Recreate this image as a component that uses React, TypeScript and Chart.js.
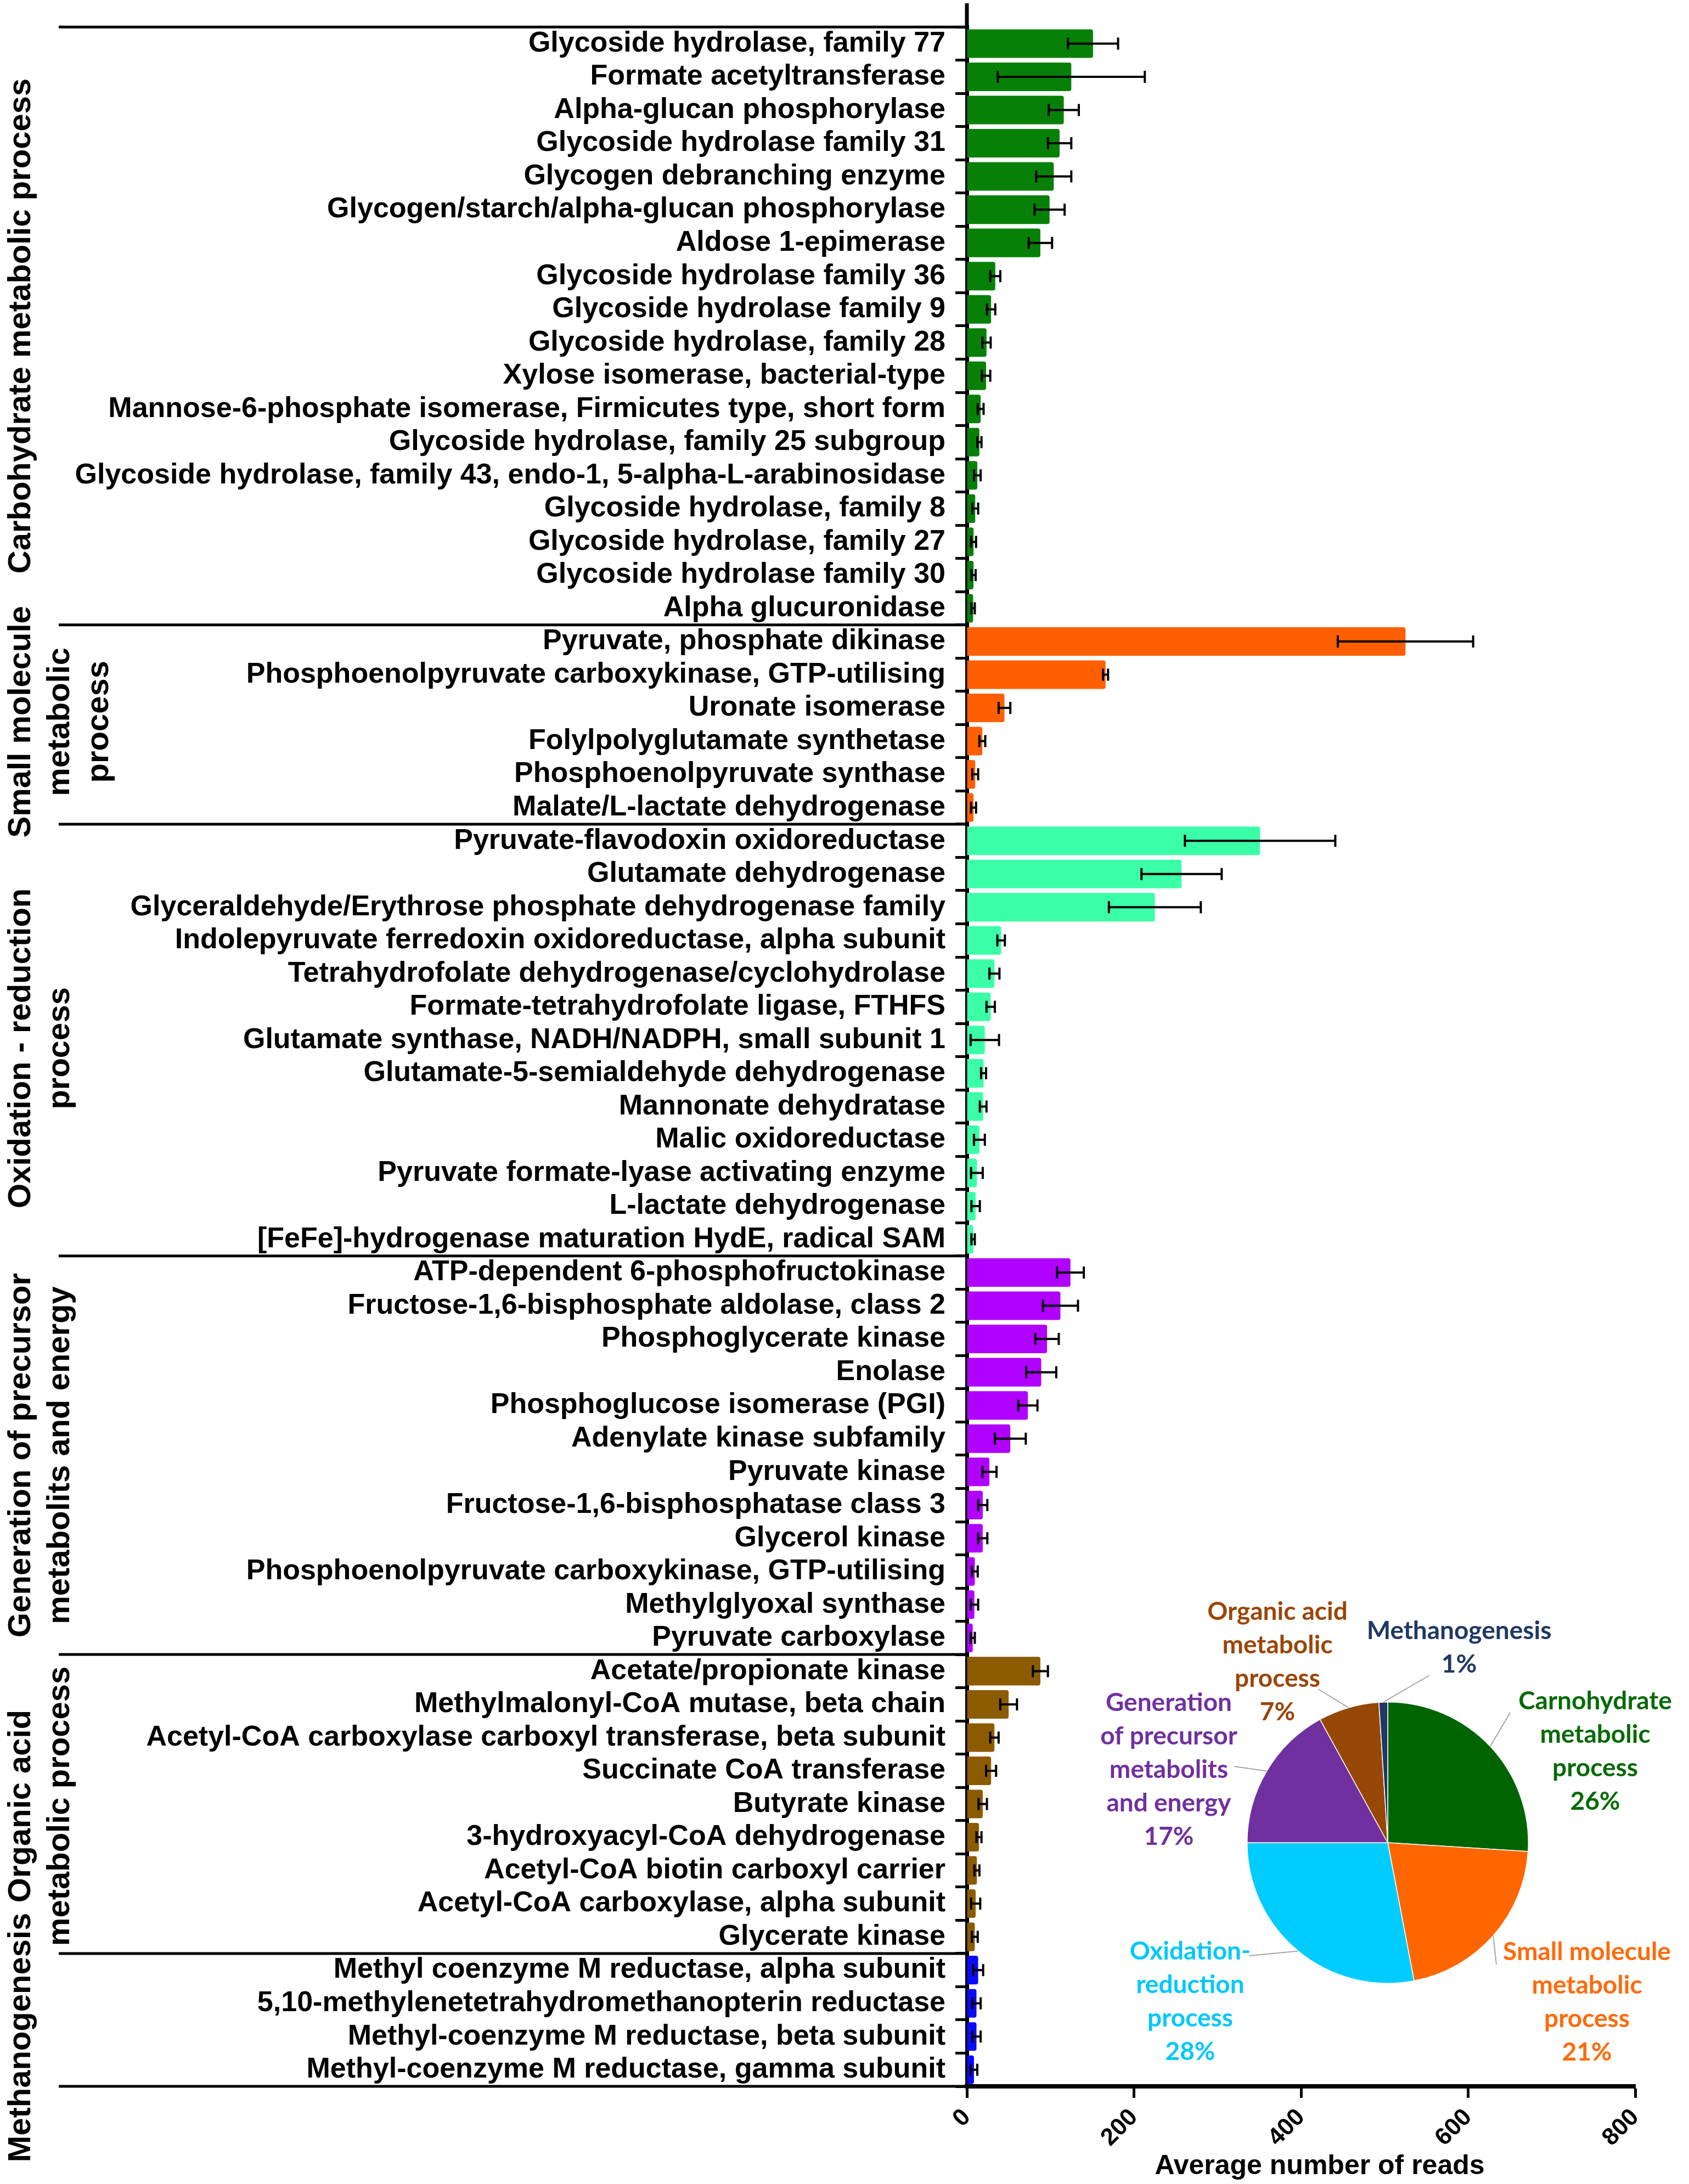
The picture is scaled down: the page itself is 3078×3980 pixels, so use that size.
import { useEffect, useRef } from 'react';
import { Chart, registerables } from 'chart.js';

Chart.register(...registerables);

// ---------------- DATA ----------------
const carbohydrateLabels = [
  'Glycoside hydrolase, family 77',
  'Formate acetyltransferase',
  'Alpha-glucan phosphorylase',
  'Glycoside hydrolase family 31',
  'Glycogen debranching enzyme',
  'Glycogen/starch/alpha-glucan phosphorylase',
  'Aldose 1-epimerase',
  'Glycoside hydrolase family 36',
  'Glycoside hydrolase family 9',
  'Glycoside hydrolase, family 28',
  'Xylose isomerase, bacterial-type',
  'Mannose-6-phosphate isomerase, Firmicutes type, short form',
  'Glycoside hydrolase, family 25 subgroup',
  'Glycoside hydrolase, family 43, endo-1, 5-alpha-L-arabinosidase',
  'Glycoside hydrolase, family 8',
  'Glycoside hydrolase, family 27',
  'Glycoside hydrolase family 30',
  'Alpha glucuronidase',
];
const carbohydrateMeans = [151, 125, 116, 111, 104, 99, 88, 34, 29, 23.5, 23, 16.5, 15, 12.5, 10, 8, 8, 7.5];
const carbohydrateErrors = [30, 88, 18, 14, 21, 18, 14, 6, 5, 5, 5, 3.5, 2.5, 4, 3.5, 3, 2.5, 2];

const smallMoleculeLabels = [
  'Pyruvate, phosphate dikinase',
  'Phosphoenolpyruvate carboxykinase, GTP-utilising',
  'Uronate isomerase',
  'Folylpolyglutamate synthetase',
  'Phosphoenolpyruvate synthase',
  'Malate/L-lactate dehydrogenase',
];
const smallMoleculeMeans = [525, 166, 45, 18.5, 10, 8];
const smallMoleculeErrors = [81, 3, 7, 3.5, 3.5, 3];

const oxidationLabels = [
  'Pyruvate-flavodoxin oxidoreductase',
  'Glutamate dehydrogenase',
  'Glyceraldehyde/Erythrose phosphate dehydrogenase family',
  'Indolepyruvate ferredoxin oxidoreductase, alpha subunit',
  'Tetrahydrofolate dehydrogenase/cyclohydrolase',
  'Formate-tetrahydrofolate ligase, FTHFS',
  'Glutamate synthase, NADH/NADPH, small subunit 1',
  'Glutamate-5-semialdehyde dehydrogenase',
  'Mannonate dehydratase',
  'Malic oxidoreductase',
  'Pyruvate formate-lyase activating enzyme',
  'L-lactate dehydrogenase',
  '[FeFe]-hydrogenase maturation HydE, radical SAM',
];
const oxidationMeans = [351, 257, 225, 41, 33, 28.5, 21.5, 20, 19.5, 15, 12, 10.5, 7.5];
const oxidationErrors = [90, 48, 55, 4.5, 6, 5, 17, 3, 4, 6.5, 7, 5, 2];

const generationLabels = [
  'ATP-dependent 6-phosphofructokinase',
  'Fructose-1,6-bisphosphate aldolase, class 2',
  'Phosphoglycerate kinase',
  'Enolase',
  'Phosphoglucose isomerase (PGI)',
  'Adenylate kinase subfamily',
  'Pyruvate kinase',
  'Fructose-1,6-bisphosphatase class 3',
  'Glycerol kinase',
  'Phosphoenolpyruvate carboxykinase, GTP-utilising',
  'Methylglyoxal synthase',
  'Pyruvate carboxylase',
];
const generationMeans = [124, 112, 96, 89, 73, 52, 27, 19, 19, 9.5, 9, 7];
const generationErrors = [16, 21, 14, 18, 11.5, 18.5, 8.5, 5.5, 5.5, 3.5, 4.5, 2.5];

const organicAcidLabels = [
  'Acetate/propionate kinase',
  'Methylmalonyl-CoA mutase, beta chain',
  'Acetyl-CoA carboxylase carboxyl transferase, beta subunit',
  'Succinate CoA transferase',
  'Butyrate kinase',
  '3-hydroxyacyl-CoA dehydrogenase',
  'Acetyl-CoA biotin carboxyl carrier',
  'Acetyl-CoA carboxylase, alpha subunit',
  'Glycerate kinase',
];
const organicAcidMeans = [88, 50, 33, 29, 19, 14.5, 12, 10.5, 9.5];
const organicAcidErrors = [9, 10, 5, 6, 5, 3, 3, 5.5, 3.5];

const methanogenesisLabels = [
  'Methyl coenzyme M reductase, alpha subunit',
  '5,10-methylenetetrahydromethanopterin reductase',
  'Methyl-coenzyme M reductase, beta subunit',
  'Methyl-coenzyme M reductase, gamma subunit',
];
const methanogenesisMeans = [13.5, 11.5, 11.5, 8.5];
const methanogenesisErrors = [6, 5, 5, 4];

const groupTitles = [
  ['Carbohydrate metabolic process'],
  ['Small molecule', 'metabolic', 'process'],
  ['Oxidation - reduction', 'process'],
  ['Generation of precursor', 'metabolits and energy'],
  ['Organic acid', 'metabolic process'],
  ['Methanogenesis'],
];
const groupBarColors = ['#078007', '#FF5F00', '#3BFFA7', '#B000FF', '#8C5B00', '#0A0AFF'];

const xTicks = [0, 200, 400, 600, 800];
const xTitle = 'Average number of reads';

const pieLabels = [
  'Carnohydrate metabolic process',
  'Small molecule metabolic process',
  'Oxidation-reduction process',
  'Generation of precursor metabolits and energy',
  'Organic acid metabolic process',
  'Methanogenesis',
];
const pieValues = [26, 21, 28, 17, 7, 1];
const pieTextLines = [
  ['Carnohydrate', 'metabolic', 'process', '26%'],
  ['Small molecule', 'metabolic', 'process', '21%'],
  ['Oxidation-', 'reduction', 'process', '28%'],
  ['Generation', 'of precursor', 'metabolits', 'and energy', '17%'],
  ['Organic acid', 'metabolic', 'process', '7%'],
  ['Methanogenesis', '1%'],
];
const pieColors = ['#006400', '#FF6600', '#00CCFF', '#7030A0', '#974806', '#1F3864'];
const pieTextColors = ['#066A06', '#FF6A0A', '#00C8FA', '#7030A0', '#9A4608', '#1F3864'];

// ---------------- DERIVED ----------------
const groupLabelSets = [carbohydrateLabels, smallMoleculeLabels, oxidationLabels, generationLabels, organicAcidLabels, methanogenesisLabels];
const groupMeanSets = [carbohydrateMeans, smallMoleculeMeans, oxidationMeans, generationMeans, organicAcidMeans, methanogenesisMeans];
const groupErrorSets = [carbohydrateErrors, smallMoleculeErrors, oxidationErrors, generationErrors, organicAcidErrors, methanogenesisErrors];
const allLabels = groupLabelSets.flat();
const allMeans = groupMeanSets.flat();
const allErrors = groupErrorSets.flat();
const groupSizes = groupLabelSets.map((g) => g.length);
const barColors = groupLabelSets.flatMap((g, gi) => g.map(() => groupBarColors[gi]));

const SANS = 'Arial, "Liberation Sans", Helvetica, sans-serif';

// ---------------- PLUGINS ----------------
const errorBarPlugin = {
  id: 'errorBars',
  afterDatasetsDraw(chart: any) {
    const meta = chart.getDatasetMeta(0);
    const xs = chart.scales.x;
    const ctx = chart.ctx;
    ctx.save();
    ctx.strokeStyle = '#000';
    ctx.lineWidth = 4;
    meta.data.forEach((bar: any, i: number) => {
      const m = allMeans[i];
      const e = allErrors[i];
      const x1 = xs.getPixelForValue(m - e);
      const x2 = xs.getPixelForValue(m + e);
      const y = bar.y;
      const c = 11;
      ctx.beginPath();
      ctx.moveTo(x1, y);
      ctx.lineTo(x2, y);
      ctx.moveTo(x1, y - c);
      ctx.lineTo(x1, y + c);
      ctx.moveTo(x2, y - c);
      ctx.lineTo(x2, y + c);
      ctx.stroke();
    });
    ctx.restore();
  },
};

const groupShift = [0, -5, 15, 0, 4, 32];

const groupPlugin = {
  id: 'groupSections',
  afterDraw(chart: any) {
    const ys = chart.scales.y;
    const xs = chart.scales.x;
    const ctx = chart.ctx;
    const half = (ys.getPixelForValue(1) - ys.getPixelForValue(0)) / 2;
    const bounds = [ys.getPixelForValue(0) - half];
    let idx = 0;
    groupSizes.forEach((n) => {
      idx += n;
      bounds.push(ys.getPixelForValue(idx - 1) + half);
    });
    ctx.save();
    ctx.strokeStyle = '#000';
    ctx.lineWidth = 5;
    bounds.forEach((b) => {
      ctx.beginPath();
      ctx.moveTo(107, b);
      ctx.lineTo(ys.right, b);
      ctx.stroke();
    });
    ctx.lineWidth = 7;
    ctx.beginPath();
    ctx.moveTo(ys.right, 6);
    ctx.lineTo(ys.right, ys.top + 2);
    ctx.stroke();

    ctx.fillStyle = '#000';
    ctx.font = `bold 58px ${SANS}`;
    ctx.textAlign = 'center';
    ctx.textBaseline = 'alphabetic';
    groupTitles.forEach((lines, g) => {
      const cy = (bounds[g] + bounds[g + 1]) / 2 + groupShift[g];
      lines.forEach((line, k) => {
        ctx.save();
        ctx.translate(55 + k * 71, cy);
        ctx.rotate(-Math.PI / 2);
        ctx.fillText(line, 0, 0);
        ctx.restore();
      });
    });

    // x-axis title
    ctx.font = `bold 50px ${SANS}`;
    ctx.textBaseline = 'middle';
    ctx.fillText(xTitle, (xs.left + xs.right) / 2 + 34, 3948);
    ctx.restore();
  },
};

// label layout relative to pie centre: [textX, firstLineY, leaderEndX, leaderEndY]
const pieLabelLayout = [
  [378, -258, 223, -237],
  [363, 199, 198, 222],
  [-360, 198, -252, 206],
  [-399, -255, -280, -139],
  [-201, -421, -127, -280],
  [130, -386, 76, -305],
];

const pieLabelPlugin = {
  id: 'pieLabels',
  afterDatasetsDraw(chart: any) {
    const ctx = chart.ctx;
    const arcs = chart.getDatasetMeta(0).data;
    ctx.save();
    arcs.forEach((arc: any, i: number) => {
      const { x, y, startAngle, endAngle, outerRadius } = arc.getProps(
        ['x', 'y', 'startAngle', 'endAngle', 'outerRadius'],
        true,
      );
      const mid = (startAngle + endAngle) / 2;
      const ax = x + Math.cos(mid) * outerRadius;
      const ay = y + Math.sin(mid) * outerRadius;
      const [tx, ty, lx, ly] = pieLabelLayout[i];
      ctx.strokeStyle = '#A6A6A6';
      ctx.lineWidth = 2;
      ctx.beginPath();
      ctx.moveTo(ax, ay);
      ctx.lineTo(x + lx, y + ly);
      ctx.stroke();
      ctx.fillStyle = pieTextColors[i];
      ctx.font = 'bold 46px Lato, "Open Sans", sans-serif';
      ctx.textAlign = 'center';
      ctx.textBaseline = 'middle';
      pieTextLines[i].forEach((t, k) => {
        ctx.fillText(t, x + tx, y + ty + k * 61);
      });
    });
    ctx.restore();
  },
};

// ---------------- COMPONENT ----------------
export default function App() {
  const barRef = useRef<HTMLCanvasElement | null>(null);
  const pieRef = useRef<HTMLCanvasElement | null>(null);

  useEffect(() => {
    if (!barRef.current || !pieRef.current) return;
    const bar = new Chart(barRef.current, {
      type: 'bar',
      data: {
        labels: allLabels,
        datasets: [
          {
            data: allMeans,
            backgroundColor: barColors,
            borderWidth: 0,
            borderRadius: 4,
            borderSkipped: 'start',
            barPercentage: 0.86,
            categoryPercentage: 1,
          },
        ],
      },
      options: {
        indexAxis: 'y',
        responsive: false,
        animation: false,
        devicePixelRatio: 1,
        layout: { padding: { top: 37, right: 98, left: 0, bottom: 0 } },
        plugins: { legend: { display: false }, tooltip: { enabled: false } },
        scales: {
          y: {
            type: 'category',
            position: 'left',
            z: 1,
            afterFit: (s: any) => {
              s.width = 1762;
            },
            grid: { drawOnChartArea: false, drawTicks: true, tickLength: 21, tickWidth: 5, tickColor: '#000' },
            border: { display: true, color: '#000', width: 7 },
            ticks: {
              autoSkip: false,
              padding: 18,
              color: '#000',
              font: { family: SANS, size: 52, weight: 'bold' },
            },
          },
          x: {
            type: 'linear',
            position: 'bottom',
            min: xTicks[0],
            max: xTicks[xTicks.length - 1],
            z: 1,
            afterFit: (s: any) => {
              s.height = 178;
            },
            afterBuildTicks: (s: any) => {
              s.ticks = xTicks.map((v) => ({ value: v }));
            },
            grid: { drawOnChartArea: false, drawTicks: true, tickLength: 21, tickWidth: 5, tickColor: '#000' },
            border: { display: true, color: '#000', width: 8 },
            ticks: {
              minRotation: 45,
              maxRotation: 45,
              padding: 10,
              color: '#000',
              font: { family: SANS, size: 44, weight: 'bold' },
            },
            title: { display: false },
          },
        },
      } as any,
      plugins: [errorBarPlugin, groupPlugin],
    });

    const pie = new Chart(pieRef.current, {
      type: 'pie',
      data: {
        labels: pieLabels,
        datasets: [
          {
            data: pieValues,
            backgroundColor: pieColors,
            borderColor: '#ffffff',
            borderWidth: 1.5,
          },
        ],
      },
      options: {
        responsive: false,
        animation: false,
        devicePixelRatio: 1,
        layout: { padding: { left: 322, right: 292, top: 221, bottom: 165 } },
        plugins: { legend: { display: false }, tooltip: { enabled: false } },
      } as any,
      plugins: [pieLabelPlugin],
    });

    return () => {
      bar.destroy();
      pie.destroy();
    };
  }, []);

  return (
    <div style={{ position: 'absolute', left: 0, top: 0, width: 3078, height: 3980, background: '#fff', overflow: 'hidden' }}>
      <canvas
        ref={barRef}
        width={3078}
        height={3980}
        style={{ position: 'absolute', left: 0, top: 0, width: 3078, height: 3980 }}
      />
      <canvas
        ref={pieRef}
        width={1128}
        height={900}
        style={{ position: 'absolute', left: 1950, top: 2880, width: 1128, height: 900 }}
      />
    </div>
  );
}
